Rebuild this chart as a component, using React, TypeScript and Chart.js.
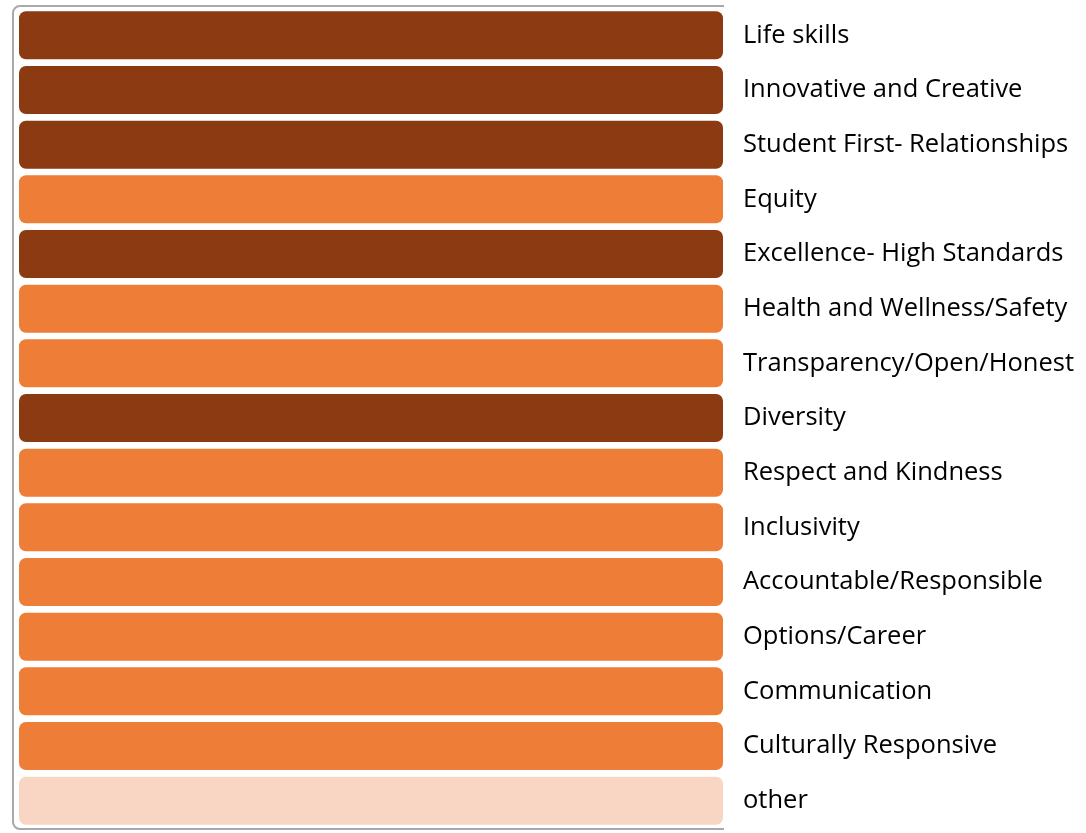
import React, { useEffect, useRef } from "react";
import { Chart, registerables } from "chart.js";

Chart.register(...registerables);

const categories = [
  "Life skills",
  "Innovative and Creative",
  "Student First- Relationships",
  "Equity",
  "Excellence- High Standards",
  "Health and Wellness/Safety",
  "Transparency/Open/Honest",
  "Diversity",
  "Respect and Kindness",
  "Inclusivity",
  "Accountable/Responsible",
  "Options/Career",
  "Communication",
  "Culturally Responsive",
  "other",
];

const values = [100, 100, 100, 100, 100, 100, 100, 100, 100, 100, 100, 100, 100, 100, 100];

const groups = ["dark", "dark", "dark", "mid", "dark", "mid", "mid", "dark", "mid", "mid", "mid", "mid", "mid", "mid", "light"];

const palette: Record<string, string> = {
  dark: "#8B3A11",
  mid: "#ED7D37",
  light: "#F9D6C4",
};

const framePlugin = {
  id: "frame",
  beforeDraw(chart: any) {
    const { ctx, chartArea } = chart;
    const l = 13, t = 6, b = 829, r = chartArea.right, rad = 7;
    ctx.save();
    ctx.strokeStyle = "#a9a9a9";
    ctx.lineWidth = 2;
    ctx.beginPath();
    ctx.moveTo(r, t);
    ctx.lineTo(l + rad, t);
    ctx.arcTo(l, t, l, t + rad, rad);
    ctx.lineTo(l, b - rad);
    ctx.arcTo(l, b, l + rad, b, rad);
    ctx.lineTo(r, b);
    ctx.stroke();
    ctx.restore();
  },
};

export default function App() {
  const ref = useRef<HTMLCanvasElement | null>(null);
  useEffect(() => {
    if (!ref.current) return;
    const chart = new Chart(ref.current, {
      type: "bar",
      data: {
        labels: categories,
        datasets: [
          {
            data: values,
            backgroundColor: groups.map((g) => palette[g]),
            borderRadius: 8,
            borderSkipped: false,
            borderWidth: 1,
            borderColor: "rgba(255,255,255,0.6)",
            barPercentage: 0.915,
            categoryPercentage: 1,
          },
        ],
      },
      options: {
        indexAxis: "y",
        animation: false,
        responsive: true,
        maintainAspectRatio: false,
        layout: { padding: { left: 18, top: 8, bottom: 5, right: 0 } },
        plugins: { legend: { display: false }, tooltip: { enabled: false } },
        scales: {
          x: { display: false, min: 0, max: 100 },
          y: {
            position: "right",
            grid: { display: false, drawTicks: false },
            border: { display: false },
            ticks: {
              padding: 19,
              color: "#000",
              font: { family: "Open Sans", size: 25.5 },
            },
            afterFit(scale: any) {
              scale.width = 362;
              scale.paddingTop = 0;
              scale.paddingBottom = 0;
            },
          },
        },
      },
      plugins: [framePlugin],
    });
    return () => chart.destroy();
  }, []);
  return (
    <div style={{ position: "absolute", left: 0, top: 0, width: 1086, height: 833 }}>
      <canvas ref={ref} />
    </div>
  );
}
